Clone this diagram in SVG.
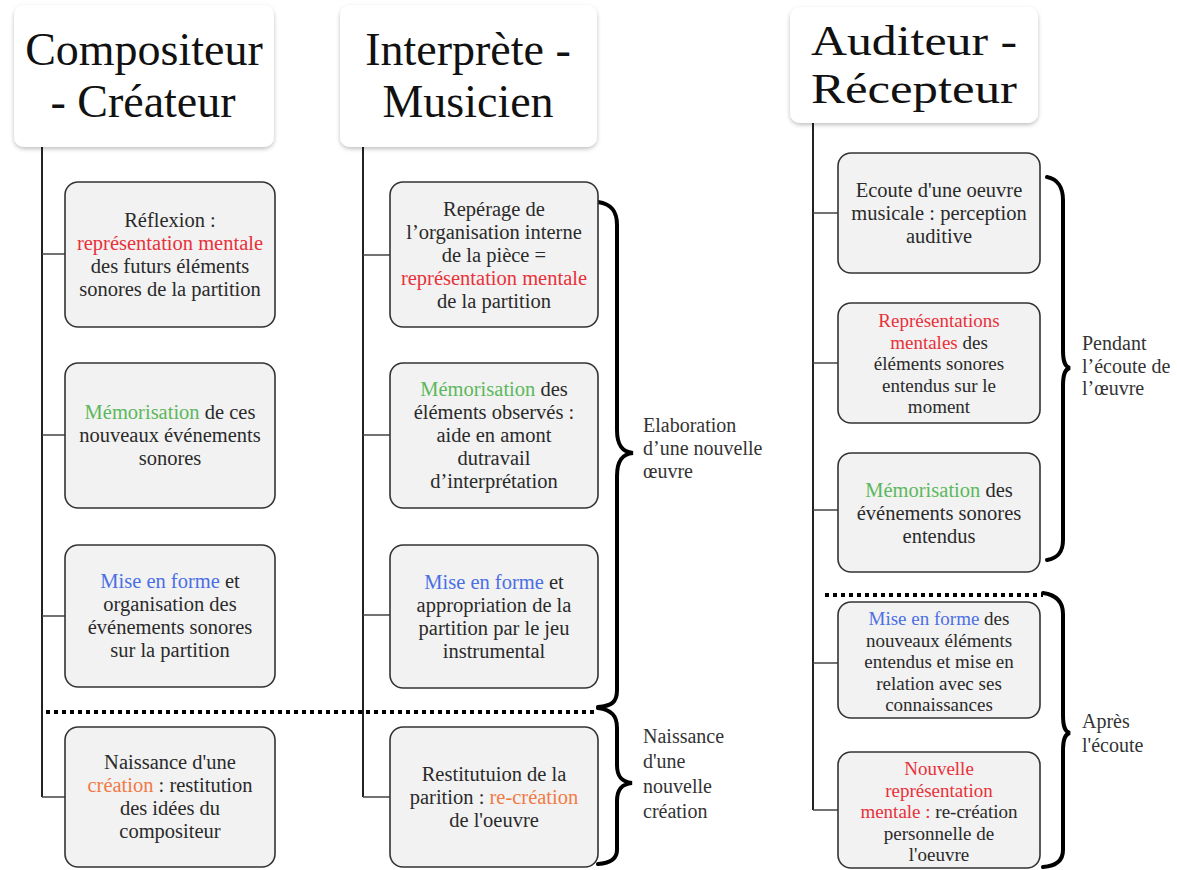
<svg xmlns="http://www.w3.org/2000/svg" width="1177" height="870" viewBox="0 0 1177 870">
<defs>
<filter id="sh" x="-10%" y="-10%" width="120%" height="130%">
<feDropShadow dx="0" dy="2" stdDeviation="2" flood-color="#000" flood-opacity="0.25"/>
</filter>
<style>
.hdr{fill:#fff;filter:url(#sh)}
.ht{font-family:"Liberation Serif",serif;font-size:46px;fill:#111;text-anchor:middle}
.box{fill:#f2f2f2;stroke:#333;stroke-width:1.6}
.bt{font-family:"Liberation Serif",serif;font-size:20.5px;fill:#2a2a2a;text-anchor:middle}
.bs{font-size:19px}
.lb{font-family:"Liberation Serif",serif;font-size:20px;fill:#333}
.trunk{stroke:#222;stroke-width:2;fill:none}
.br{stroke:#444;stroke-width:1.6;fill:none}
.brace{stroke:#000;stroke-width:4;fill:none;stroke-linecap:round}
.dot{stroke:#000;stroke-width:4;stroke-dasharray:4 4;fill:none}
.r{fill:#e8313a}.g{fill:#5cb85c}.b{fill:#4a6fe3}.o{fill:#f07a45}
</style>
</defs>
<rect width="1177" height="870" fill="#fff"/>

<g id="connectors">
<path class="trunk" d="M42,147V797M363,147V797M813,123V810"/>
<path class="br" d="M42,254H65M42,435H65M42,616H65M42,797H65"/>
<path class="br" d="M363,255H390M363,435H390M363,615H390M363,797H390"/>
<path class="br" d="M813,213H838M813,363H838M813,510H838M813,663H838M813,810H838"/>
<path class="dot" d="M46,712H598"/>
<path class="dot" d="M825,595H1043"/>
<path class="brace" d="M598,202C612,204 617,212 617,225L617,430C617,445 622,452 633,453C622,454 617,461 617,476L617,690C617,702 612,706 598,707"/>
<path class="brace" d="M598,708C612,710 617,716 617,728L617,765C617,777 622,782 632,783C622,784 617,789 617,801L617,850C617,858 612,863 598,864"/>
<path class="brace" d="M1047,177C1058,179 1063,188 1063,200L1063,350C1063,362 1065,367 1070,368C1065,369 1063,374 1063,386L1063,540C1063,552 1058,558 1047,560"/>
<path class="brace" d="M1043,593C1057,595 1063,602 1063,614L1063,715C1063,727 1065,732 1070,733C1065,734 1063,739 1063,751L1063,850C1063,860 1057,866 1043,867"/>
</g>

<g id="h1"><rect class="hdr" x="14" y="5" width="260" height="142" rx="10"/>
<text class="ht" x="144" y="65">Compositeur</text><text class="ht" x="143" y="117">- Créateur</text></g>
<g id="h2"><rect class="hdr" x="340" y="5" width="257" height="142" rx="10"/>
<text class="ht" x="468" y="65">Interprète -</text><text class="ht" x="468" y="117">Musicien</text></g>
<g id="h3"><rect class="hdr" x="790" y="7" width="248" height="116" rx="10"/>
<text class="ht" style="font-size:43px" x="914" y="55" textLength="206" lengthAdjust="spacingAndGlyphs">Auditeur -</text><text class="ht" style="font-size:43px" x="914" y="103" textLength="206" lengthAdjust="spacingAndGlyphs">Récepteur</text></g>

<g id="c1b1"><rect class="box" x="65" y="182" width="210" height="145" rx="13"/>
<text class="bt"><tspan x="170" y="227">Réflexion :</tspan><tspan x="170" y="250" class="r">représentation mentale</tspan><tspan x="170" y="273">des futurs éléments</tspan><tspan x="170" y="296">sonores de la partition</tspan></text></g>
<g id="c1b2"><rect class="box" x="65" y="363" width="210" height="145" rx="13"/>
<text class="bt"><tspan x="170" y="419"><tspan class="g">Mémorisation</tspan> de ces</tspan><tspan x="170" y="442">nouveaux événements</tspan><tspan x="170" y="465">sonores</tspan></text></g>
<g id="c1b3"><rect class="box" x="65" y="545" width="210" height="142" rx="13"/>
<text class="bt"><tspan x="170" y="588"><tspan class="b">Mise en forme</tspan> et</tspan><tspan x="170" y="611">organisation des</tspan><tspan x="170" y="634">événements sonores</tspan><tspan x="170" y="657">sur la partition</tspan></text></g>
<g id="c1b4"><rect class="box" x="65" y="727" width="210" height="140" rx="13"/>
<text class="bt"><tspan x="170" y="769">Naissance d'une</tspan><tspan x="170" y="792"><tspan class="o">création</tspan> : restitution</tspan><tspan x="170" y="815">des idées du</tspan><tspan x="170" y="838">compositeur</tspan></text></g>

<g id="c2b1"><rect class="box" x="390" y="182" width="208" height="145" rx="13"/>
<text class="bt"><tspan x="494" y="216">Repérage de</tspan><tspan x="494" y="239">l’organisation interne</tspan><tspan x="494" y="262">de la pièce =</tspan><tspan x="494" y="285" class="r">représentation mentale</tspan><tspan x="494" y="308">de la partition</tspan></text></g>
<g id="c2b2"><rect class="box" x="390" y="363" width="208" height="145" rx="13"/>
<text class="bt"><tspan x="494" y="396"><tspan class="g">Mémorisation</tspan> des</tspan><tspan x="494" y="419">éléments observés :</tspan><tspan x="494" y="442">aide en amont</tspan><tspan x="494" y="465">dutravail</tspan><tspan x="494" y="488">d’interprétation</tspan></text></g>
<g id="c2b3"><rect class="box" x="390" y="545" width="208" height="143" rx="13"/>
<text class="bt"><tspan x="494" y="589"><tspan class="b">Mise en forme</tspan> et</tspan><tspan x="494" y="612">appropriation de la</tspan><tspan x="494" y="635">partition par le jeu</tspan><tspan x="494" y="658">instrumental</tspan></text></g>
<g id="c2b4"><rect class="box" x="390" y="727" width="208" height="140" rx="13"/>
<text class="bt"><tspan x="494" y="781">Restitutuion de la</tspan><tspan x="494" y="804">parition : <tspan class="o">re-création</tspan></tspan><tspan x="494" y="827">de l'oeuvre</tspan></text></g>

<g id="c3b1"><rect class="box" x="838" y="153" width="202" height="120" rx="13"/>
<text class="bt"><tspan x="939" y="197">Ecoute d'une oeuvre</tspan><tspan x="939" y="220">musicale : perception</tspan><tspan x="939" y="243">auditive</tspan></text></g>
<g id="c3b2"><rect class="box" x="838" y="303" width="202" height="120" rx="13"/>
<text class="bt bs"><tspan x="939" y="327" class="r">Représentations</tspan><tspan x="939" y="348.5"><tspan class="r">mentales</tspan> des</tspan><tspan x="939" y="370">éléments sonores</tspan><tspan x="939" y="391.5">entendus sur le</tspan><tspan x="939" y="413">moment</tspan></text></g>
<g id="c3b3"><rect class="box" x="838" y="453" width="202" height="119" rx="13"/>
<text class="bt"><tspan x="939" y="497"><tspan class="g">Mémorisation</tspan> des</tspan><tspan x="939" y="520">événements sonores</tspan><tspan x="939" y="543">entendus</tspan></text></g>
<g id="c3b4"><rect class="box" x="838" y="602" width="202" height="116" rx="13"/>
<text class="bt bs"><tspan x="939" y="625"><tspan class="b">Mise en forme</tspan> des</tspan><tspan x="939" y="646.5">nouveaux éléments</tspan><tspan x="939" y="668">entendus et mise en</tspan><tspan x="939" y="689.5">relation avec ses</tspan><tspan x="939" y="711">connaissances</tspan></text></g>
<g id="c3b5"><rect class="box" x="838" y="752" width="202" height="116" rx="13"/>
<text class="bt bs"><tspan x="939" y="775" class="r">Nouvelle</tspan><tspan x="939" y="796.5" class="r">représentation</tspan><tspan x="939" y="818"><tspan class="r">mentale :</tspan> re-création</tspan><tspan x="939" y="839.5">personnelle de</tspan><tspan x="939" y="861">l'oeuvre</tspan></text></g>

<g id="labels">
<text class="lb"><tspan x="643" y="432">Elaboration</tspan><tspan x="643" y="455">d’une nouvelle</tspan><tspan x="643" y="478">œuvre</tspan></text>
<text class="lb"><tspan x="643" y="743">Naissance</tspan><tspan x="643" y="768">d'une</tspan><tspan x="643" y="793">nouvelle</tspan><tspan x="643" y="818">création</tspan></text>
<text class="lb"><tspan x="1082" y="350">Pendant</tspan><tspan x="1082" y="372.5">l’écoute de</tspan><tspan x="1082" y="395">l’œuvre</tspan></text>
<text class="lb"><tspan x="1082" y="728">Après</tspan><tspan x="1082" y="752">l'écoute</tspan></text>
</g>
</svg>
